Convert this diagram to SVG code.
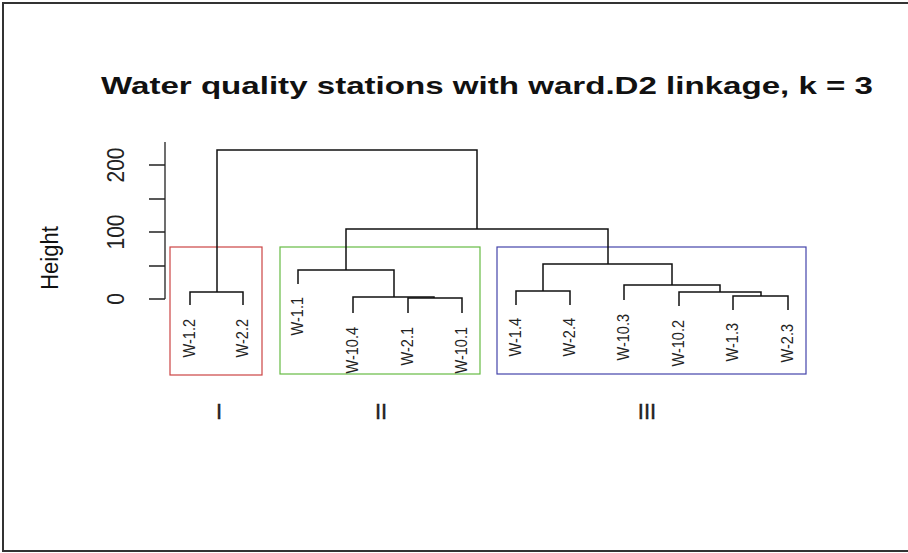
<svg xmlns="http://www.w3.org/2000/svg" width="908" height="553" viewBox="0 0 908 553">
  <style>
    .frame { fill: none; stroke: #333; stroke-width: 2; }
    .title { font-family: "Liberation Sans", Arial, sans-serif; font-weight: bold; font-size: 24px; fill: #111; }
    .axis { fill: none; stroke: #222; stroke-width: 1.3; }
    .tick { font-family: "Liberation Sans", Arial, sans-serif; font-size: 21px; fill: #222; text-anchor: middle; }
    .ylab { font-family: "Liberation Sans", Arial, sans-serif; font-size: 22px; fill: #111; text-anchor: middle; }
    .branch { fill: none; stroke: #111; stroke-width: 1.5; }
    .leaf { font-family: "Liberation Sans", Arial, sans-serif; font-size: 14.5px; fill: #222; text-anchor: end; }
    .roman { font-family: "Liberation Sans", Arial, sans-serif; font-size: 22px; fill: #222; text-anchor: middle; stroke: #222; stroke-width: 0.4; }
    .box { fill: none; stroke-width: 1.2; }
  </style>

  <rect width="908" height="553" fill="#fff"/>
  <!-- outer frame (open on the right) -->
  <path class="frame" d="M908,3 H3 V551 H908"/>

  <text class="title" x="101" y="94" textLength="772" lengthAdjust="spacingAndGlyphs">Water quality stations with ward.D2 linkage, k = 3</text>

  <!-- height axis -->
  <g id="axis">
    <path class="axis" d="M165,142 V299 M149,299 H165 M149,266 H165 M149,232 H165 M149,199 H165 M149,165 H165"/>
    <text class="tick" transform="translate(124,299) scale(1.15,1) rotate(-90)">0</text>
    <text class="tick" transform="translate(124,232) scale(1.15,1) rotate(-90)">100</text>
    <text class="tick" transform="translate(124,165) scale(1.15,1) rotate(-90)">200</text>
    <text class="ylab" transform="translate(58,258) scale(1.1,1) rotate(-90)">Height</text>
  </g>

  <!-- cluster boxes -->
  <g id="cluster-I">
    <rect class="box" x="170" y="247" width="92" height="128" stroke="#cc4444"/>
    <text class="roman" x="219" y="419">I</text>
  </g>
  <g id="cluster-II">
    <rect class="box" x="280" y="247" width="200" height="127" stroke="#66bb44"/>
    <text class="roman" x="381" y="419">II</text>
  </g>
  <g id="cluster-III">
    <rect class="box" x="497" y="247" width="309" height="127" stroke="#4444aa"/>
    <text class="roman" x="647" y="419">III</text>
  </g>

  <!-- dendrogram branches -->
  <g id="branches">
    <path class="branch" d="M217,292 V150 H477 V229"/>
    <path class="branch" d="M190,305 V292 H243 V305"/>
    <path class="branch" d="M346,270 V229 H608 V264"/>
    <path class="branch" d="M298,284 V270 H394 V297"/>
    <path class="branch" d="M353,313 V297 H434 V298"/>
    <path class="branch" d="M408,313 V298 H462 V313"/>
    <path class="branch" d="M543,291 V264 H672 V285"/>
    <path class="branch" d="M516,305 V291 H570 V305"/>
    <path class="branch" d="M624,300 V285 H720 V292"/>
    <path class="branch" d="M679,306 V292 H761 V296"/>
    <path class="branch" d="M733,310 V296 H788 V310"/>
  </g>

  <!-- leaf labels -->
  <g id="leaves">
    <text class="leaf" transform="translate(195,319) scale(1.2,1) rotate(-90)">W-1.2</text>
    <text class="leaf" transform="translate(248,319) scale(1.2,1) rotate(-90)">W-2.2</text>
    <text class="leaf" transform="translate(303,297) scale(1.2,1) rotate(-90)">W-1.1</text>
    <text class="leaf" transform="translate(358,327) scale(1.2,1) rotate(-90)">W-10.4</text>
    <text class="leaf" transform="translate(413,327) scale(1.2,1) rotate(-90)">W-2.1</text>
    <text class="leaf" transform="translate(467,327) scale(1.2,1) rotate(-90)">W-10.1</text>
    <text class="leaf" transform="translate(521,318) scale(1.2,1) rotate(-90)">W-1.4</text>
    <text class="leaf" transform="translate(575,318) scale(1.2,1) rotate(-90)">W-2.4</text>
    <text class="leaf" transform="translate(629,314) scale(1.2,1) rotate(-90)">W-10.3</text>
    <text class="leaf" transform="translate(684,320) scale(1.2,1) rotate(-90)">W-10.2</text>
    <text class="leaf" transform="translate(738,323) scale(1.2,1) rotate(-90)">W-1.3</text>
    <text class="leaf" transform="translate(793,324) scale(1.2,1) rotate(-90)">W-2.3</text>
  </g>
</svg>
